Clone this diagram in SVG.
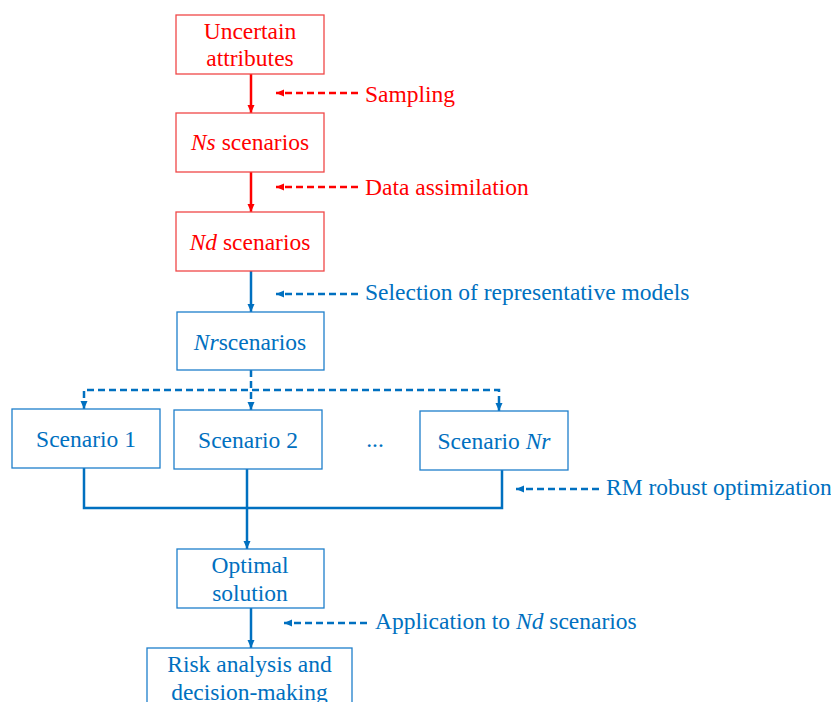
<svg xmlns="http://www.w3.org/2000/svg" width="831" height="702" viewBox="0 0 831 702">
<defs>
<marker id="ar" markerUnits="userSpaceOnUse" markerWidth="9" markerHeight="8" refX="8" refY="3.5" orient="auto-start-reverse"><path d="M0,0 L8,3.5 L0,7 z" fill="#FF0000"/></marker>
<marker id="ab" markerUnits="userSpaceOnUse" markerWidth="9" markerHeight="8" refX="8" refY="3.5" orient="auto-start-reverse"><path d="M0,0 L8,3.5 L0,7 z" fill="#0070C0"/></marker>
<style>
text{font-family:"Liberation Serif","Times New Roman",serif;font-size:23.5px}
.r{fill:#FF0000}
.b{fill:#0070C0}
.c{text-anchor:middle}
.i{font-style:italic}
.br{fill:#fff;stroke:#F04848;stroke-width:1.3}
.bb{fill:#fff;stroke:#1E7FCB;stroke-width:1.3}
.sr{fill:none;stroke:#FF0000;stroke-width:2.5}
.sb{fill:none;stroke:#0070C0;stroke-width:2.5}
.d{stroke-dasharray:7 4}
</style>
</defs>
<rect width="831" height="702" fill="#fff"/>
<g id="connectors">
<line class="sr" x1="251" y1="74" x2="251" y2="113" marker-end="url(#ar)"/>
<line class="sr" x1="251" y1="172" x2="251" y2="212" marker-end="url(#ar)"/>
<line class="sb" x1="251" y1="271" x2="251" y2="312" marker-end="url(#ab)"/>
<line class="sb d" x1="251" y1="370" x2="251" y2="410" marker-end="url(#ab)"/>
<path class="sb d" d="M84,409 V390 H499 V411" marker-start="url(#ab)" marker-end="url(#ab)"/>
<path class="sb" d="M84,468 V508 H502 V470"/>
<line class="sb" x1="247" y1="469" x2="247" y2="549" marker-end="url(#ab)"/>
<line class="sb" x1="251" y1="608" x2="251" y2="648" marker-end="url(#ab)"/>
<line class="sr d" x1="358" y1="93" x2="276" y2="93" marker-end="url(#ar)"/>
<line class="sr d" x1="358" y1="187" x2="276" y2="187" marker-end="url(#ar)"/>
<line class="sb d" x1="358" y1="294" x2="276" y2="294" marker-end="url(#ab)"/>
<line class="sb d" x1="599" y1="489" x2="516" y2="489" marker-end="url(#ab)"/>
<line class="sb d" x1="367" y1="623" x2="284" y2="623" marker-end="url(#ab)"/>
</g>
<g id="uncertain">
<rect class="br" x="176" y="15" width="148" height="59"/>
<text class="r c" x="250" y="39">Uncertain</text>
<text class="r c" x="250" y="66">attributes</text>
</g>
<g id="ns">
<rect class="br" x="176" y="113" width="148" height="59"/>
<text class="r c" x="250" y="150"><tspan class="i">Ns</tspan> scenarios</text>
</g>
<g id="nd">
<rect class="br" x="176" y="212" width="148" height="59"/>
<text class="r c" x="250" y="250"><tspan class="i">Nd</tspan> scenarios</text>
</g>
<g id="nr">
<rect class="bb" x="177" y="312" width="147" height="58"/>
<text class="b c" x="250" y="350"><tspan class="i">Nr</tspan>scenarios</text>
</g>
<g id="s1">
<rect class="bb" x="12" y="409" width="148" height="59"/>
<text class="b c" x="86" y="447">Scenario 1</text>
</g>
<g id="s2">
<rect class="bb" x="174" y="410" width="148" height="59"/>
<text class="b c" x="248" y="448">Scenario 2</text>
</g>
<text class="b c" x="375" y="447">...</text>
<g id="snr">
<rect class="bb" x="420" y="411" width="148" height="59"/>
<text class="b c" x="494" y="449">Scenario <tspan class="i">Nr</tspan></text>
</g>
<g id="optimal">
<rect class="bb" x="177" y="549" width="147" height="59"/>
<text class="b c" x="250" y="573">Optimal</text>
<text class="b c" x="250" y="601">solution</text>
</g>
<g id="risk">
<rect class="bb" x="147" y="648" width="205" height="70"/>
<text class="b c" x="249.5" y="672">Risk analysis and</text>
<text class="b c" x="249.5" y="700">decision-making</text>
</g>
<g id="labels">
<text class="r" x="365" y="102">Sampling</text>
<text class="r" x="365" y="195">Data assimilation</text>
<text class="b" x="365" y="300">Selection of representative models</text>
<text class="b" x="606" y="495">RM robust optimization</text>
<text class="b" x="375" y="629">Application to <tspan class="i">Nd</tspan> scenarios</text>
</g>
</svg>
